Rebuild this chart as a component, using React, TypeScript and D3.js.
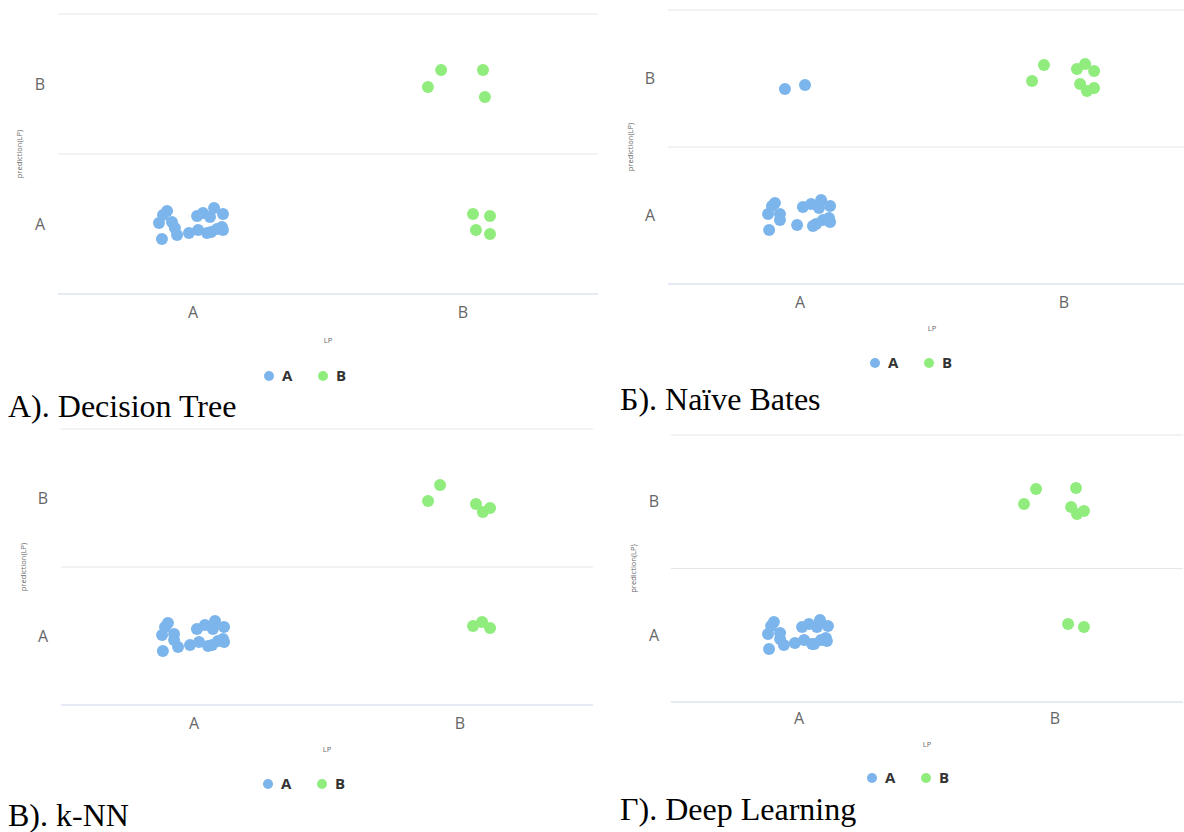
import * as d3 from 'd3';
import React, { useEffect, useRef } from 'react';

const categories = ['A', 'B'];
const seriesNames = ['A', 'B'];
const seriesColors = ['#7cb5ec', '#90ed7d'];

// points are [LP, prediction(LP)] with A = 0, B = 1 plus the jitter seen in the picture
const decisionTreeA = [
    [-0.096, 0.093], [-0.111, 0.064], [-0.126, 0.007], [-0.078, 0.014], [-0.067, -0.029],
    [-0.115, -0.107], [-0.059, -0.079], [-0.015, -0.064], [0.015, 0.057], [0.037, 0.079],
    [0.063, 0.05], [0.078, 0.114], [0.111, 0.071], [0.019, -0.043], [0.052, -0.064],
    [0.067, -0.057], [0.089, -0.036], [0.107, -0.021], [0.111, -0.043],
];
const decisionTreeB = [
    [0.919, 1.1], [1.074, 1.1], [0.87, 0.979], [1.081, 0.907],
    [1.037, 0.071], [1.1, 0.057], [1.048, -0.043], [1.1, -0.071],
];

const naiveBayesA = [
    [-0.095, 0.091], [-0.106, 0.069], [-0.121, 0.011], [-0.076, 0.011], [-0.076, -0.033],
    [-0.117, -0.106], [-0.011, -0.069], [0.011, 0.062], [0.042, 0.084], [0.072, 0.055],
    [0.08, 0.113], [0.114, 0.069], [0.049, -0.077], [0.061, -0.062], [0.087, -0.033],
    [0.11, -0.018], [0.114, -0.047],
    [-0.057, 0.923], [0.019, 0.953],
];
const naiveBayesB = [
    [0.924, 1.099], [0.879, 0.982], [1.049, 1.069], [1.08, 1.106],
    [1.114, 1.055], [1.061, 0.96], [1.087, 0.909], [1.114, 0.931],
];

const knnA = [
    [-0.098, 0.094], [-0.109, 0.065], [-0.12, 0.007], [-0.075, 0.014], [-0.075, -0.029],
    [-0.117, -0.109], [-0.06, -0.08], [-0.015, -0.065], [0.011, 0.051], [0.041, 0.08],
    [0.071, 0.051], [0.079, 0.109], [0.113, 0.065], [0.019, -0.043], [0.053, -0.072],
    [0.068, -0.065], [0.09, -0.036], [0.109, -0.022], [0.113, -0.043],
];
const knnB = [
    [0.925, 1.094], [0.88, 0.978], [1.06, 0.957], [1.086, 0.899], [1.113, 0.928],
    [1.049, 0.072], [1.083, 0.101], [1.113, 0.058],
];

const deepLearningA = [
    [-0.098, 0.099], [-0.109, 0.069], [-0.121, 0.009], [-0.074, 0.017], [-0.074, -0.028],
    [-0.117, -0.103], [-0.059, -0.073], [-0.016, -0.058], [0.012, 0.062], [0.039, 0.084],
    [0.07, 0.062], [0.082, 0.114], [0.113, 0.069], [0.02, -0.036], [0.051, -0.066],
    [0.059, -0.066], [0.086, -0.036], [0.105, -0.021], [0.109, -0.043],
];
const deepLearningB = [
    [0.926, 1.096], [0.879, 0.983], [1.082, 1.103], [1.063, 0.961], [1.086, 0.908], [1.113, 0.931],
    [1.051, 0.084], [1.113, 0.062],
];

const panels = [
    {
        caption: 'A). Decision Tree', series: [decisionTreeA, decisionTreeB],
        left: 58, right: 598, top: 14, bottom: 294, tickX: 40, xLabelY: 312,
        titleX: 19, lpY: 340, legendY: 376, legendX: 269, captionX: 8, captionY: 417,
    },
    {
        caption: 'Б). Naïve Bates', series: [naiveBayesA, naiveBayesB],
        left: 668, right: 1196, top: 10, bottom: 284, tickX: 650, xLabelY: 302,
        titleX: 630, lpY: 328, legendY: 363, legendX: 875, captionX: 620, captionY: 410,
    },
    {
        caption: 'B). k-NN', series: [knnA, knnB],
        left: 61, right: 593, top: 429, bottom: 705, tickX: 43, xLabelY: 723,
        titleX: 23, lpY: 749, legendY: 784, legendX: 268, captionX: 8, captionY: 826,
    },
    {
        caption: 'Г). Deep Learning', series: [deepLearningA, deepLearningB],
        left: 671, right: 1183, top: 435, bottom: 702, tickX: 654, xLabelY: 718,
        titleX: 633, lpY: 744, legendY: 778, legendX: 872, captionX: 620, captionY: 820,
    },
];

const W = 1184;
const H = 832;

const App: React.FC = () => {
    const svgRef = useRef<SVGSVGElement | null>(null);

    useEffect(() => {
        const root = d3.select(svgRef.current);
        root.selectAll('*').remove();

        panels.forEach(p => {
            const g = root.append('g');
            const x = d3.scaleLinear().domain([-0.5, 1.5]).range([p.left, p.right]);
            const y = d3.scaleLinear().domain([-0.5, 1.5]).range([p.bottom, p.top]);

            // grid lines between the category bands, bottom one is the axis line
            g.selectAll('.grid')
                .data([1.5, 0.5, -0.5])
                .enter()
                .append('line')
                .attr('x1', p.left)
                .attr('x2', Math.min(p.right, W))
                .attr('y1', d => y(d))
                .attr('y2', d => y(d))
                .attr('stroke', d => (d === -0.5 ? '#ccd6eb' : '#e6e6e6'))
                .attr('stroke-width', 1.2);

            g.selectAll('.ytick')
                .data(categories)
                .enter()
                .append('text')
                .attr('x', p.tickX)
                .attr('y', (d, i) => y(i))
                .attr('dy', '0.35em')
                .attr('text-anchor', 'middle')
                .style('font-family', '"Open Sans", sans-serif')
                .style('font-size', '16px')
                .attr('fill', '#666666')
                .text(d => d);

            g.selectAll('.xtick')
                .data(categories)
                .enter()
                .append('text')
                .attr('x', (d, i) => x(i))
                .attr('y', p.xLabelY)
                .attr('dy', '0.35em')
                .attr('text-anchor', 'middle')
                .style('font-family', '"Open Sans", sans-serif')
                .style('font-size', '16px')
                .attr('fill', '#666666')
                .text(d => d);

            g.append('text')
                .attr('transform', `translate(${p.titleX},${(p.top + p.bottom) / 2}) rotate(-90)`)
                .attr('text-anchor', 'middle')
                .attr('dy', '0.35em')
                .style('font-family', '"Open Sans", sans-serif')
                .style('font-size', '7.5px')
                .attr('fill', '#666666')
                .text('prediction(LP)');

            g.append('text')
                .attr('x', (x(0) + x(1)) / 2)
                .attr('y', p.lpY)
                .attr('dy', '0.35em')
                .attr('text-anchor', 'middle')
                .style('font-family', '"Open Sans", sans-serif')
                .style('font-size', '7.5px')
                .attr('fill', '#666666')
                .text('LP');

            p.series.forEach((pts, si) => {
                g.selectAll(`.dot${si}`)
                    .data(pts)
                    .enter()
                    .append('circle')
                    .attr('cx', d => x(d[0]))
                    .attr('cy', d => y(d[1]))
                    .attr('r', 6)
                    .attr('fill', seriesColors[si]);
            });

            // legend
            seriesNames.forEach((name, i) => {
                const lx = p.legendX + i * 54;
                g.append('circle')
                    .attr('cx', lx)
                    .attr('cy', p.legendY)
                    .attr('r', 5)
                    .attr('fill', seriesColors[i]);
                g.append('text')
                    .attr('x', lx + 13)
                    .attr('y', p.legendY)
                    .attr('dy', '0.35em')
                    .style('font-family', '"Open Sans", sans-serif')
                    .style('font-size', '15px')
                    .style('font-weight', 'bold')
                    .attr('fill', '#333333')
                    .text(name);
            });

            g.append('text')
                .attr('x', p.captionX)
                .attr('y', p.captionY)
                .style('font-family', '"Liberation Serif", "Times New Roman", serif')
                .style('font-size', '32px')
                .attr('fill', '#000')
                .text(p.caption);
        });
    }, []);

    return (
        <svg
            ref={svgRef}
            width={W}
            height={H}
            style={{ position: 'absolute', left: 0, top: 0, background: '#fff' }}
        />
    );
};

export default App;
